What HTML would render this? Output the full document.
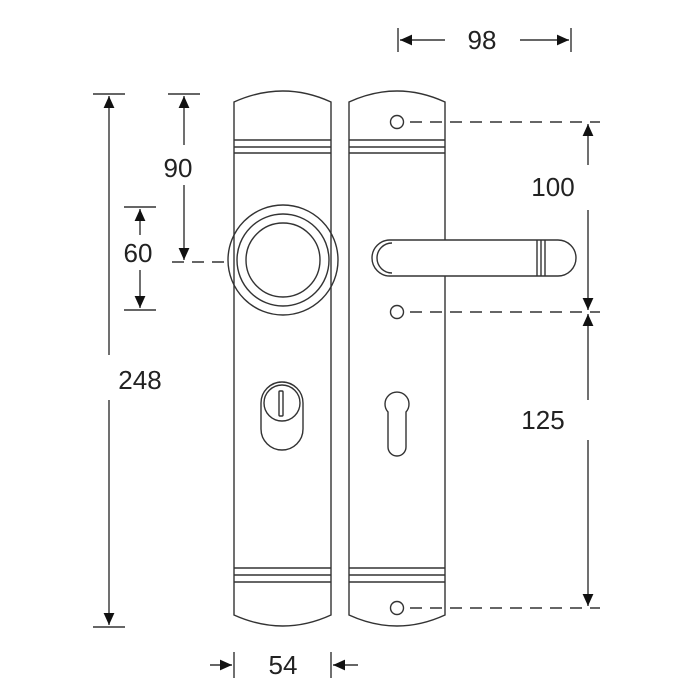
<!DOCTYPE html>
<html><head><style>body{margin:0;background:#fff}svg{display:block}text{font-family:"Liberation Sans",sans-serif;font-size:26px;fill:#222}</style></head><body>
<svg width="700" height="700" viewBox="0 0 700 700">
<defs><marker id="a" viewBox="0 0 10 10" refX="10" refY="5" markerWidth="12" markerHeight="12" markerUnits="userSpaceOnUse" orient="auto"><path d="M0,0.5L10,5L0,9.5z" fill="#111"/></marker></defs>
<g fill="none" stroke="#333" stroke-width="1.4">
<path d="M234,102 Q283,80 331,102 V615 Q283,637 234,615 Z"/>
<path d="M234,140H331M234,147H331M234,153H331M234,568H331M234,575H331M234,582H331"/>
<circle cx="283" cy="260" r="55"/><circle cx="283" cy="260" r="46"/><circle cx="283" cy="260" r="37"/>
<rect x="261" y="382" width="42" height="68" rx="21"/><circle cx="282" cy="403" r="18"/>
<rect x="279" y="391" width="4" height="25" rx="1"/>
<path d="M349,102 Q397,80 445,102 V615 Q397,637 349,615 Z"/>
<path d="M349,140H445M349,147H445M349,153H445M349,568H445M349,575H445M349,582H445"/>
<circle cx="397" cy="122" r="6.5"/><circle cx="397" cy="312" r="6.5"/><circle cx="397" cy="608" r="6.5"/>
<path d="M388,412 A12,12 0 1 1 406,412 V447 A9,9 0 0 1 388,447 Z" fill="#fff"/>
<path d="M390,240 H558 A18,18 0 0 1 558,276 H390 A18,18 0 0 1 390,240 Z" fill="#fff"/>
<path d="M392,243 A15,15 0 0 0 392,273"/>
<path d="M537,240V276M541,240V276M545,240V276"/>
</g>
<g stroke="#333" stroke-width="1.4" fill="none">
<path d="M410,122H600M410,312H600M410,608H600M172,262H228" stroke-dasharray="12,8"/>
<path d="M93,94H125M93,627H125M168,94H200M124,207H156M124,310H156M398,28V52M571,28V52M234,652V678M331,652V678"/>
<path d="M109,355V96" marker-end="url(#a)"/><path d="M109,400V625" marker-end="url(#a)"/>
<path d="M184,145V96" marker-end="url(#a)"/><path d="M184,185V260" marker-end="url(#a)"/>
<path d="M140,235V209" marker-end="url(#a)"/><path d="M140,270V308" marker-end="url(#a)"/>
<path d="M588,165V124" marker-end="url(#a)"/><path d="M588,210V310" marker-end="url(#a)"/>
<path d="M588,400V314" marker-end="url(#a)"/><path d="M588,440V606" marker-end="url(#a)"/>
<path d="M445,40H400" marker-end="url(#a)"/><path d="M520,40H569" marker-end="url(#a)"/>
<path d="M210,665H232" marker-end="url(#a)"/><path d="M358,665H333" marker-end="url(#a)"/>
</g>
<text x="140" y="389" text-anchor="middle">248</text>
<text x="178" y="177" text-anchor="middle">90</text>
<text x="138" y="262" text-anchor="middle">60</text>
<text x="482" y="49" text-anchor="middle">98</text>
<text x="553" y="196" text-anchor="middle">100</text>
<text x="543" y="429" text-anchor="middle">125</text>
<text x="283" y="674" text-anchor="middle">54</text>
</svg>
</body></html>
